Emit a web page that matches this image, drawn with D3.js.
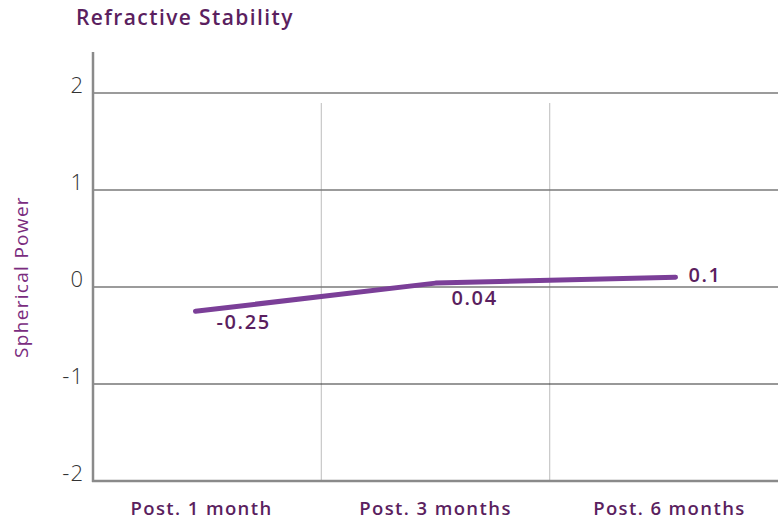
<!DOCTYPE html>
<html><head><meta charset="utf-8">
<script src="https://cdn.jsdelivr.net/npm/d3@7"></script>
<style>body{margin:0;background:#fff}svg{display:block}</style>
</head><body>
<svg id="c" width="784" height="520"></svg>
<script>
const categories = ["Post. 1 month", "Post. 3 months", "Post. 6 months"];
const values = [-0.25, 0.04, 0.1];
const valueLabels = ["-0.25", "0.04", "0.1"];
const yTicks = [-2, -1, 0, 1, 2];
const title = "Refractive Stability";
const yTitle = "Spherical Power";

const svg = d3.select("#c");
const L = 93, R = 778, T = 52, B = 481;
const font = "'Open Sans', sans-serif";
const purpleDark = "#5b1f5f";

const y = d3.scaleLinear().domain([-2, 2]).range([B, 93]);
const xBand = d3.scaleBand().domain(categories).range([L, R]);
const xLab = d3.scalePoint().domain(categories).range([L, R]).padding(0.464);
const xLine = d3.scalePoint().domain(categories).range([L, R]).padding(0.427);

// vertical grid at band boundaries
svg.append("g").selectAll("line").data(categories.slice(1)).join("line")
  .attr("x1", d => xBand(d)).attr("x2", d => xBand(d))
  .attr("y1", 103).attr("y2", B)
  .attr("stroke", "#c8c8c8").attr("stroke-width", 1.2);

// horizontal grid
svg.append("g").selectAll("line").data(yTicks.filter(t => t !== -2)).join("line")
  .attr("x1", L).attr("x2", R)
  .attr("y1", d => y(d)).attr("y2", d => y(d))
  .attr("stroke", d => d === -1 ? "#333" : "#7a7a7a")
  .attr("stroke-width", d => d === -1 ? 1.2 : 1.6);

// axes lines
svg.append("line").attr("x1", L).attr("x2", L).attr("y1", T).attr("y2", B + 1)
  .attr("stroke", "#8a8a8a").attr("stroke-width", 2.5);
svg.append("line").attr("x1", L - 1).attr("x2", R).attr("y1", B).attr("y2", B)
  .attr("stroke", "#8a8a8a").attr("stroke-width", 2.5);

// y tick labels
svg.append("g").selectAll("text").data(yTicks).join("text")
  .attr("x", 84).attr("y", d => y(d))
  .attr("text-anchor", "end")
  .attr("font-family", font).attr("font-weight", 300).attr("font-size", 22)
  .attr("letter-spacing", 1)
  .attr("fill", "#333")
  .text(d => d);

// x labels
svg.append("g").selectAll("text").data(categories).join("text")
  .attr("x", d => xLab(d)).attr("y", 515)
  .attr("text-anchor", "middle")
  .attr("font-family", font).attr("font-weight", 600).attr("font-size", 18.5)
  .attr("letter-spacing", 1.4)
  .attr("fill", purpleDark)
  .text(d => d);

// line
const pts = categories.map((c, i) => [xLine(c), y(values[i])]);
svg.append("path").attr("d", d3.line()(pts))
  .attr("fill", "none").attr("stroke", "#7b3f98").attr("stroke-width", 5)
  .attr("stroke-linecap", "round").attr("stroke-linejoin", "round");

// data labels
const dx = [21, 16, 13];
const dy = [12, 17, -1];
svg.append("g").selectAll("text").data(values).join("text")
  .attr("x", (d, i) => xLine(categories[i]) + dx[i])
  .attr("y", (d, i) => y(d) + dy[i])
  .attr("dominant-baseline", "middle")
  .attr("font-family", font).attr("font-weight", 600).attr("font-size", 20)
  .attr("letter-spacing", 1.6)
  .attr("fill", purpleDark)
  .text((d, i) => valueLabels[i]);

// title
svg.append("text").attr("x", 76).attr("y", 25)
  .attr("font-family", font).attr("font-weight", 600).attr("font-size", 21)
  .attr("letter-spacing", 1.4)
  .attr("fill", purpleDark).text(title);

// y title
svg.append("text").attr("transform", "translate(28,277) rotate(-90)")
  .attr("text-anchor", "middle")
  .attr("font-family", font).attr("font-weight", 500).attr("font-size", 19)
  .attr("letter-spacing", 1.3)
  .attr("fill", "#7a2c7e").text(yTitle);
</script>
</body></html>
